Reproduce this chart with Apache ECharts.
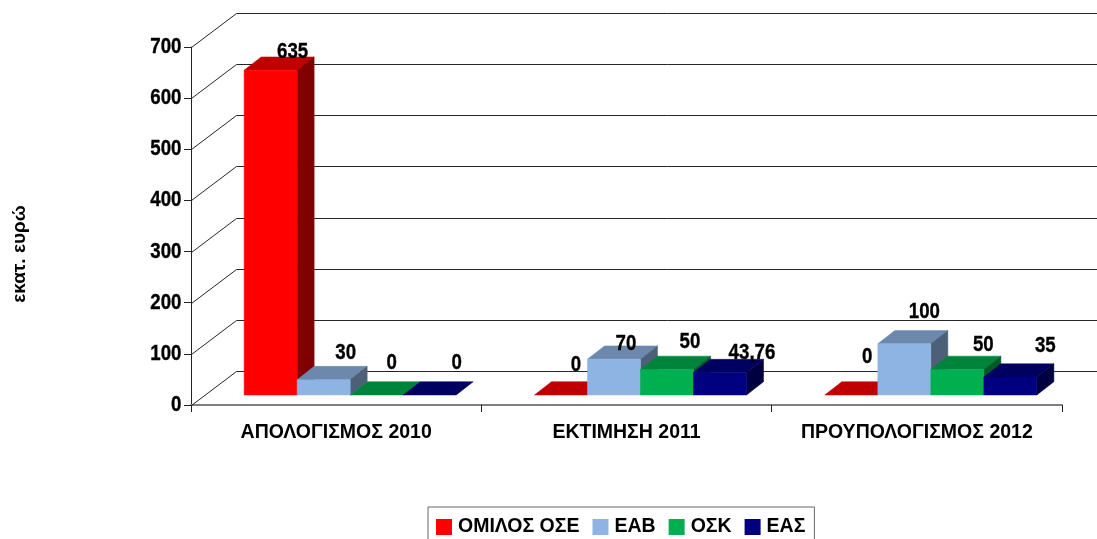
<!DOCTYPE html>
<html><head><meta charset="utf-8">
<style>html,body{margin:0;padding:0;background:#fff}#c{width:1097px;height:539px}</style>
<script src="https://cdn.jsdelivr.net/npm/echarts@6/dist/echarts.min.js"></script>
</head><body><div id="c"></div>
<script>
const categories = ['ΑΠΟΛΟΓΙΣΜΟΣ 2010', 'ΕΚΤΙΜΗΣΗ 2011', 'ΠΡΟΥΠΟΛΟΓΙΣΜΟΣ 2012'];
const seriesNames = ['ΟΜΙΛΟΣ ΟΣΕ', 'ΕΑΒ', 'ΟΣΚ', 'ΕΑΣ'];
const omilosOse = [635, 0, 0];
const eab = [30, 70, 100];
const osk = [0, 50, 50];
const eas = [0, 43.76, 35];
const yTicks = [0, 100, 200, 300, 400, 500, 600, 700];

const allValues = [omilosOse, eab, osk, eas];
const FONT = '"Liberation Sans",Arial,sans-serif';
const palette = [
  {front:'#FF0000', top:'#C00000', side:'#800000'},
  {front:'#8EB4E3', top:'#6C88AC', side:'#4D6078'},
  {front:'#00B050', top:'#00843C', side:'#005A28'},
  {front:'#000080', top:'#000060', side:'#000040'}
];
// 3D projection (pixels)
const WALL = [45, -34], BASE = [14, -10], DEPTH = [17, -13.3], BAR_FRAC = 0.1826;
const NARROW = 0.85;
// hand-placed label nudges from each bar's front-top centre, by series then category
const nudge = [
  [[22,-18],[15,-30],[16,-38]],
  [[22,-27],[12,-15],[20,-32]],
  [[15,-32],[23,-28],[26,-25]],
  [[27,-32],[32,-20],[35,-31]]
];

function condensedText(x, y, text, size, align) {
  return {type:'text', z2:100, x, y, scaleX:NARROW, scaleY:1.03, style:{
    x:0, y:0, text, font:'bold '+size+'px '+FONT, fill:'#000', stroke:'#000', lineWidth:0.35,
    align, verticalAlign:'middle'
  }};
}

function barRender(si) {
  return function (params, api) {
    const ci = api.value(0), v = api.value(1);
    const band = api.size([1, 0])[0], w = band * BAR_FRAC;
    const c0 = api.coord([ci, 0]), cv = api.coord([ci, v]);
    const x0 = c0[0] + BASE[0] + (si - 2) * w, x1 = x0 + w;
    const yb = c0[1] + BASE[1], yt = cv[1] + BASE[1];
    const dx = DEPTH[0], dy = DEPTH[1], p = palette[si];
    const poly = (pts, fill) => ({type:'polygon', shape:{points:pts}, style:{fill, stroke:fill, lineWidth:0.5}});
    const children = [
      poly([[x0,yt],[x1,yt],[x1+dx,yt+dy],[x0+dx,yt+dy]], p.top)
    ];
    if (v > 0) {
      children.push(poly([[x1,yt],[x1+dx,yt+dy],[x1+dx,yb+dy],[x1,yb]], p.side));
      children.push(poly([[x0,yt],[x1,yt],[x1,yb],[x0,yb]], p.front));
    }
    const n = nudge[si][ci];
    children.push(condensedText((x0+x1)/2+n[0], yt+n[1], String(v).replace('.', ','), 22, 'center'));
    return {type:'group', children};
  };
}

const barSeries = seriesNames.map((name, si) => ({
  name, type:'custom', coordinateSystem:'cartesian2d',
  itemStyle:{color:palette[si].front},
  renderItem:barRender(si), encode:{x:0, y:1},
  data:allValues[si].map((v, ci) => [ci, v]), animation:false
}));

const wallSeries = {
  type:'custom', coordinateSystem:'cartesian2d', silent:true, animation:false,
  encode:{x:0, y:1}, data:yTicks.map(t => [0, t]), z:1,
  renderItem(params, api) {
    const t = api.value(1);
    const y = Math.round(api.coord([0, t])[1]) + 0.5;
    const xl = 191.5, xr = 1107;
    return {type:'group', children:[
      {type:'polyline', shape:{points:[[xl,y],[xl+WALL[0],y+WALL[1]],[xr,y+WALL[1]]]},
        style:{fill:null, stroke:'#262626', lineWidth:1}},
      condensedText(181.5, y-1, String(t), 22, 'right')
    ]};
  }
};

const chart = echarts.init(document.getElementById('c'), null, {renderer:'canvas'});
chart.setOption({
  animation:false, backgroundColor:'#fff',
  grid:{left:191, width:871, top:47, height:358, containLabel:false},
  xAxis:{type:'category', data:categories,
    axisLine:{lineStyle:{color:'#808080', width:2}},
    axisTick:{show:true, length:7, lineStyle:{color:'#222'}},
    axisLabel:{color:'#000', interval:0, fontFamily:FONT, fontWeight:'bold', fontSize:19.5, margin:18}},
  yAxis:{type:'value', min:0, max:700, interval:100,
    splitLine:{show:false},
    axisLine:{show:true, lineStyle:{color:'#222'}},
    axisTick:{show:true, length:7, lineStyle:{color:'#222'}},
    axisLabel:{show:false}},
  legend:{data:seriesNames, left:428, top:507, orient:'horizontal',
    icon:'rect', itemWidth:16, itemHeight:16, itemGap:13,
    padding:[10,9,5,8], borderColor:'#666', borderWidth:1, backgroundColor:'#fff',
    selectedMode:false,
    textStyle:{color:'#000', fontFamily:FONT, fontWeight:'bold', fontSize:19.5, padding:[0,0,0,1]}},
  graphic:[{type:'text', x:20, y:254, rotation:Math.PI/2, silent:true,
    style:{text:'εκατ. ευρώ', font:'bold 19px '+FONT, fill:'#000',
      align:'center', verticalAlign:'middle'}}],
  series:[wallSeries].concat(barSeries)
});
</script></body></html>
